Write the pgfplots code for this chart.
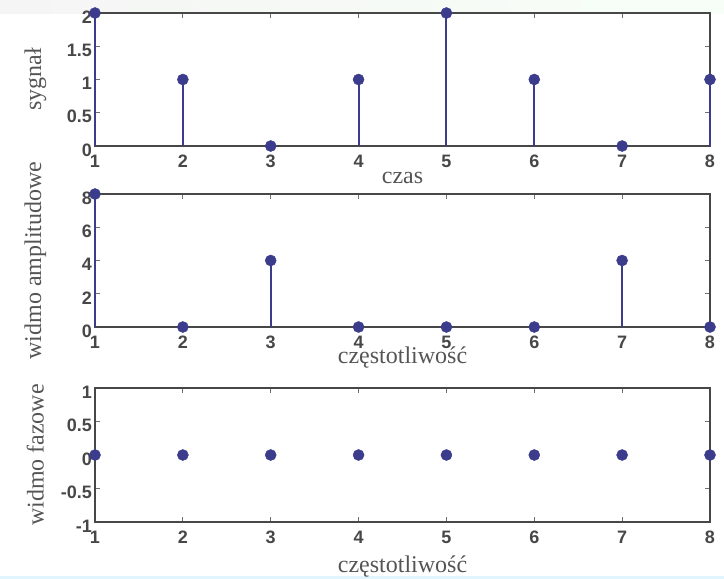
\documentclass[border=0pt]{standalone}
\usepackage{fontspec}
\setmainfont{Liberation Serif}
\newfontfamily\tickfont{Liberation Sans}
\usepackage{pgfplots}
\pgfplotsset{compat=1.18}
\definecolor{stem}{HTML}{3C3C8C}
\definecolor{axgray}{HTML}{474747}
\definecolor{tickgray}{HTML}{707070}
\definecolor{lblgray}{HTML}{555555}
\pgfplotsset{
 stemax/.style={
  scale only axis, width=615pt, height=133pt,
  xmin=1, xmax=8, xtick={1,2,3,4,5,6,7,8},
  clip=false,
  axis line style={axgray, line width=1.6pt},
  tick style={color=tickgray, line width=0.8pt},
  major tick length=5pt,
  tick align=inside,
  ticklabel style={font=\fontsize{18}{18}\selectfont\tickfont\bfseries, text=axgray, inner sep=0pt},
  xticklabel style={yshift=-9pt},
  yticklabel style={xshift=-3pt, yshift=-4pt},
  /pgf/number format/assume math mode=true,
  ylabel style={at={(axis description cs:-0.097,0.5)}, anchor=center,
     font=\fontsize{24}{24}\selectfont, text=lblgray},
  xlabel style={at={(axis description cs:0.5,-0.24)}, anchor=center,
     font=\fontsize{24}{24}\selectfont, text=lblgray},
 },
 stemplot/.style={ycomb, color=stem, line width=2pt, mark=*, mark size=5.5pt,
   mark options={fill=stem, draw=stem, line width=0.5pt}},
}
\begin{document}
\begin{tikzpicture}
\path[use as bounding box] (0,0) rectangle (724pt,-579pt);
\shade[left color=white!92!gray, right color=black!8!green!3!white] (0,0) rectangle (724pt,-13pt);
\fill[cyan!12!white] (0,-576pt) rectangle (724pt,-579pt);

\begin{axis}[stemax, at={(95pt,-146pt)}, anchor=south west,
  ymin=0, ymax=2, ytick={0,0.5,1,1.5,2}, yticklabels={0,0.5,1,1.5,2},
  xlabel={czas}, ylabel={sygnał}]
\addplot[stemplot] coordinates {(1,2) (2,1) (3,0) (4,1) (5,2) (6,1) (7,0) (8,1)};
\end{axis}

\begin{axis}[stemax, at={(95pt,-327pt)}, anchor=south west,
  ymin=0, ymax=8, ytick={0,2,4,6,8}, yticklabels={0,2,4,6,8},
  xlabel={częstotliwość}, ylabel={widmo amplitudowe},
  xlabel style={at={(axis description cs:0.5,-0.233)}}]
\addplot[stemplot] coordinates {(1,8) (2,0) (3,4) (4,0) (5,0) (6,0) (7,4) (8,0)};
\end{axis}

\begin{axis}[stemax, at={(95pt,-522pt)}, anchor=south west, height=134pt,
  axis line style={axgray, line width=2.2pt},
  ymin=-1, ymax=1, ytick={-1,-0.5,0,0.5,1}, yticklabels={-1,-0.5,0,0.5,1},
  xlabel={częstotliwość}, ylabel={widmo fazowe},
  xlabel style={at={(axis description cs:0.5,-0.33)}}]
\addplot[stemplot] coordinates {(1,0) (2,0) (3,0) (4,0) (5,0) (6,0) (7,0) (8,0)};
\end{axis}
\end{tikzpicture}
\end{document}
